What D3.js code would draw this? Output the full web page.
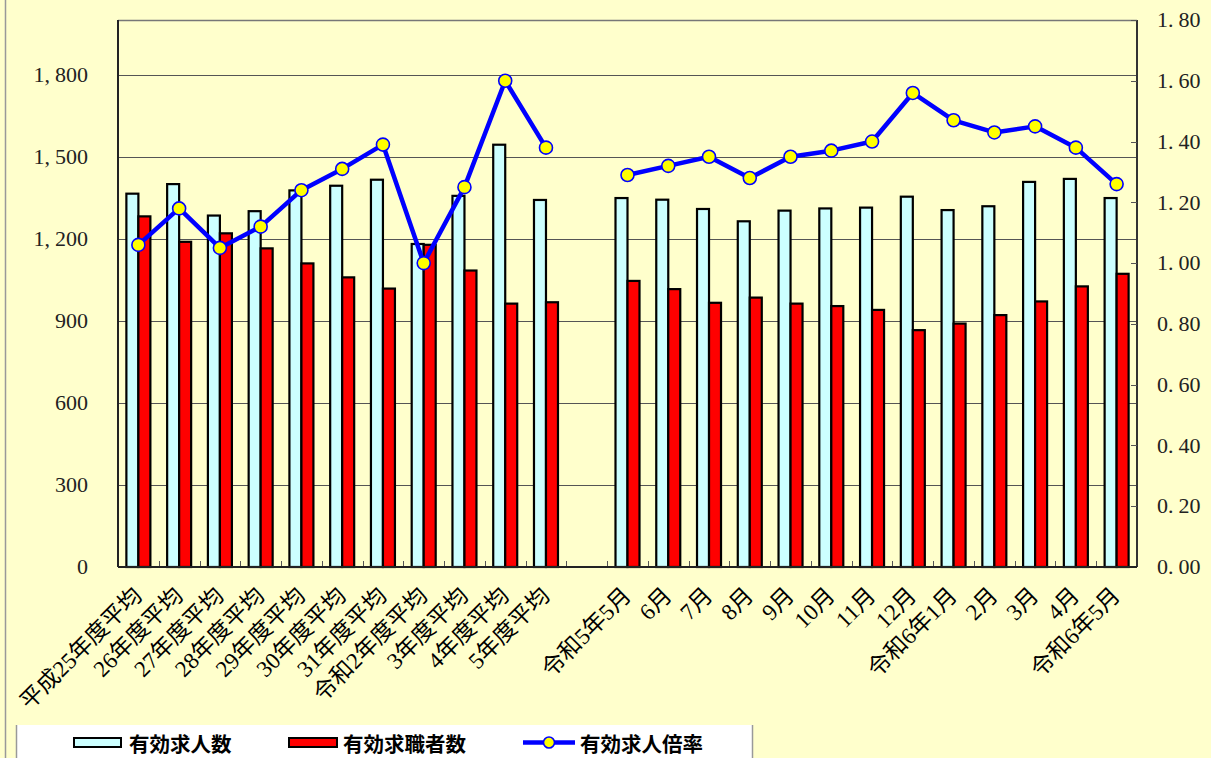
<!DOCTYPE html>
<html><head><meta charset="utf-8">
<script src="https://cdn.jsdelivr.net/npm/d3@7"></script>
<style>
html,body{margin:0;padding:0;background:#FFFFCC;}
svg{display:block;}
</style></head>
<body>
<svg id="chart" width="1211" height="758"></svg>
<script>
const categories = ["平成25年度平均","26年度平均","27年度平均","28年度平均","29年度平均","30年度平均","31年度平均","令和2年度平均","3年度平均","4年度平均","5年度平均","","令和5年5月","6月","7月","8月","9月","10月","11月","12月","令和6年1月","2月","3月","4月","令和6年5月"];
const jobOffers  = [1365,1400,1285,1301,1377,1394,1416,1181,1357,1544,1342,null,1349,1343,1309,1264,1303,1311,1314,1354,1305,1319,1408,1419,1349];
const jobSeekers = [1282,1189,1220,1165,1110,1059,1018,1178,1084,963,968,null,1046,1016,966,985,963,954,940,866,890,921,971,1026,1072];
const ratio      = [1.06,1.18,1.05,1.12,1.24,1.31,1.39,1.00,1.25,1.60,1.38,null,1.29,1.32,1.35,1.28,1.35,1.37,1.40,1.56,1.47,1.43,1.45,1.38,1.26];
const leftTicks  = [0,300,600,900,1200,1500,1800];
const rightTicks = [0,0.2,0.4,0.6,0.8,1.0,1.2,1.4,1.6,1.8];
const seriesNames = ["有効求人数","有効求職者数","有効求人倍率"];

const svg = d3.select("#chart");
const W = 1211, H = 758;
const L = 118, R = 1137, T = 20, B = 567;
const bg = "#FFFFCC";

svg.append("rect").attr("width",W).attr("height",H).attr("fill",bg);
svg.append("line").attr("x1",5.5).attr("x2",5.5).attr("y1",0).attr("y2",H).attr("stroke","#999").attr("stroke-width",1.5);

const x = d3.scaleBand().domain(d3.range(categories.length)).range([L,R]).padding(0);
const bw = x.bandwidth();
const inner = d3.scaleBand().domain([0,1]).range([bw/2-12, bw/2+12]).padding(0);
const yL = d3.scaleLinear().domain([0,2000]).range([B,T]);
const yR = d3.scaleLinear().domain([0,1.8]).range([B,T]);

svg.append("rect").attr("x",L).attr("y",T).attr("width",R-L).attr("height",B-T).attr("fill",bg);

svg.append("g").selectAll("line").data(leftTicks.filter(d=>d>0)).join("line")
  .attr("x1",L).attr("x2",R).attr("y1",d=>Math.round(yL(d))+0.5).attr("y2",d=>Math.round(yL(d))+0.5)
  .attr("stroke","#555").attr("stroke-width",1);

svg.append("line").attr("x1",L).attr("x2",R).attr("y1",T+0.5).attr("y2",T+0.5).attr("stroke","#777").attr("stroke-width",1.5);
svg.append("line").attr("x1",R).attr("x2",R).attr("y1",T).attr("y2",B).attr("stroke","#333").attr("stroke-width",2);
svg.append("line").attr("x1",L).attr("x2",L).attr("y1",T).attr("y2",B).attr("stroke","#222").attr("stroke-width",2);

svg.append("g").selectAll("line").data(rightTicks).join("line")
  .attr("x1",R-6).attr("x2",R).attr("y1",d=>Math.round(yR(d))+0.5).attr("y2",d=>Math.round(yR(d))+0.5)
  .attr("stroke","#555").attr("stroke-width",1);

svg.append("g").selectAll("line").data(d3.range(1,categories.length)).join("line")
  .attr("x1",i=>Math.round(x(i))+0.5).attr("x2",i=>Math.round(x(i))+0.5).attr("y1",B-6).attr("y2",B)
  .attr("stroke","#555").attr("stroke-width",1);

const barG = svg.append("g");
const series = [{vals:jobOffers, fill:"#CCFFFF"},{vals:jobSeekers, fill:"#FF0000"}];
series.forEach((s,si)=>{
  barG.append("g").selectAll("rect").data(s.vals.map((v,i)=>({v,i})).filter(d=>d.v!=null)).join("rect")
    .attr("x",d=>x(d.i)+inner(si))
    .attr("y",d=>yL(d.v))
    .attr("width",inner.bandwidth())
    .attr("height",d=>B-yL(d.v))
    .attr("fill",s.fill).attr("stroke","#000").attr("stroke-width",2.2);
});

svg.append("line").attr("x1",L).attr("x2",R).attr("y1",B).attr("y2",B).attr("stroke","#222").attr("stroke-width",2);

const pts = ratio.map((v,i)=>({v,i}));
const line = d3.line().defined(d=>d.v!=null).x(d=>x(d.i)+bw/2).y(d=>yR(d.v));
svg.append("path").attr("d",line(pts)).attr("fill","none").attr("stroke","#0000FF").attr("stroke-width",4.5).attr("stroke-linejoin","round");
svg.append("g").selectAll("circle").data(pts.filter(d=>d.v!=null)).join("circle")
  .attr("cx",d=>x(d.i)+bw/2).attr("cy",d=>yR(d.v)).attr("r",6.5)
  .attr("fill","#FFFF00").attr("stroke","#0000FF").attr("stroke-width",1.6);

const numFont = "'Liberation Serif','DejaVu Serif',serif";
const fmtL = d3.format(",");
const lt = svg.append("g").selectAll("text").data(leftTicks).join("text")
  .attr("x",88).attr("y",d=>yL(d)).attr("dy","0.33em").attr("text-anchor","end")
  .attr("font-family",numFont).attr("font-size",22).attr("fill","#222");
lt.each(function(d){
  const s = fmtL(d);
  const t = d3.select(this);
  if(s.includes(",")){
    const p = s.split(",");
    t.append("tspan").text(p[0]+",");
    t.append("tspan").attr("dx",5).text(p[1]);
  } else t.text(s);
});
const fmtR = d3.format(".2f");
const rt = svg.append("g").selectAll("text").data(rightTicks).join("text")
  .attr("x",1157).attr("y",d=>yR(d)).attr("dy","0.33em")
  .attr("font-family",numFont).attr("font-size",22).attr("fill","#222");
rt.each(function(d){
  const p = fmtR(d).split(".");
  const t = d3.select(this);
  t.append("tspan").text(p[0]+".");
  t.append("tspan").attr("dx",5).text(p[1]);
});

svg.append("g").selectAll("text").data(categories.map((c,i)=>({c,i})).filter(d=>d.c!=="")).join("text")
  .attr("transform",d=>`translate(${x(d.i)+bw/2+5},${597}) rotate(-45)`)
  .attr("text-anchor","end")
  .attr("font-family","'Liberation Serif','Noto Sans CJK JP',serif").attr("font-size",23).attr("fill","#000")
  .text(d=>d.c);

const lg = svg.append("g");
lg.append("rect").attr("x",16.5).attr("y",725).attr("width",736).attr("height",40).attr("fill","#FFFFFF");
lg.append("line").attr("x1",16.5).attr("x2",16.5).attr("y1",725).attr("y2",H).attr("stroke","#999").attr("stroke-width",1.5);
lg.append("line").attr("x1",752.5).attr("x2",752.5).attr("y1",725).attr("y2",H).attr("stroke","#999").attr("stroke-width",1.5);
const legFont = "'Noto Sans CJK JP',sans-serif";
lg.append("rect").attr("x",74).attr("y",738).attr("width",47).attr("height",9).attr("fill","#CCFFFF").attr("stroke","#000").attr("stroke-width",2);
lg.append("text").attr("x",129).attr("y",752).attr("font-family",legFont).attr("font-weight","bold").attr("font-size",20.5).text(seriesNames[0]);
lg.append("rect").attr("x",289).attr("y",738).attr("width",48).attr("height",9).attr("fill","#FF0000").attr("stroke","#000").attr("stroke-width",2);
lg.append("text").attr("x",343).attr("y",752).attr("font-family",legFont).attr("font-weight","bold").attr("font-size",20.5).text(seriesNames[1]);
lg.append("line").attr("x1",523).attr("x2",575).attr("y1",742.5).attr("y2",742.5).attr("stroke","#0000FF").attr("stroke-width",4.5);
lg.append("circle").attr("cx",549).attr("cy",742.5).attr("r",5.5).attr("fill","#FFFF00").attr("stroke","#0000FF").attr("stroke-width",1.6);
lg.append("text").attr("x",580).attr("y",752).attr("font-family",legFont).attr("font-weight","bold").attr("font-size",20.5).text(seriesNames[2]);
</script>
</body></html>
